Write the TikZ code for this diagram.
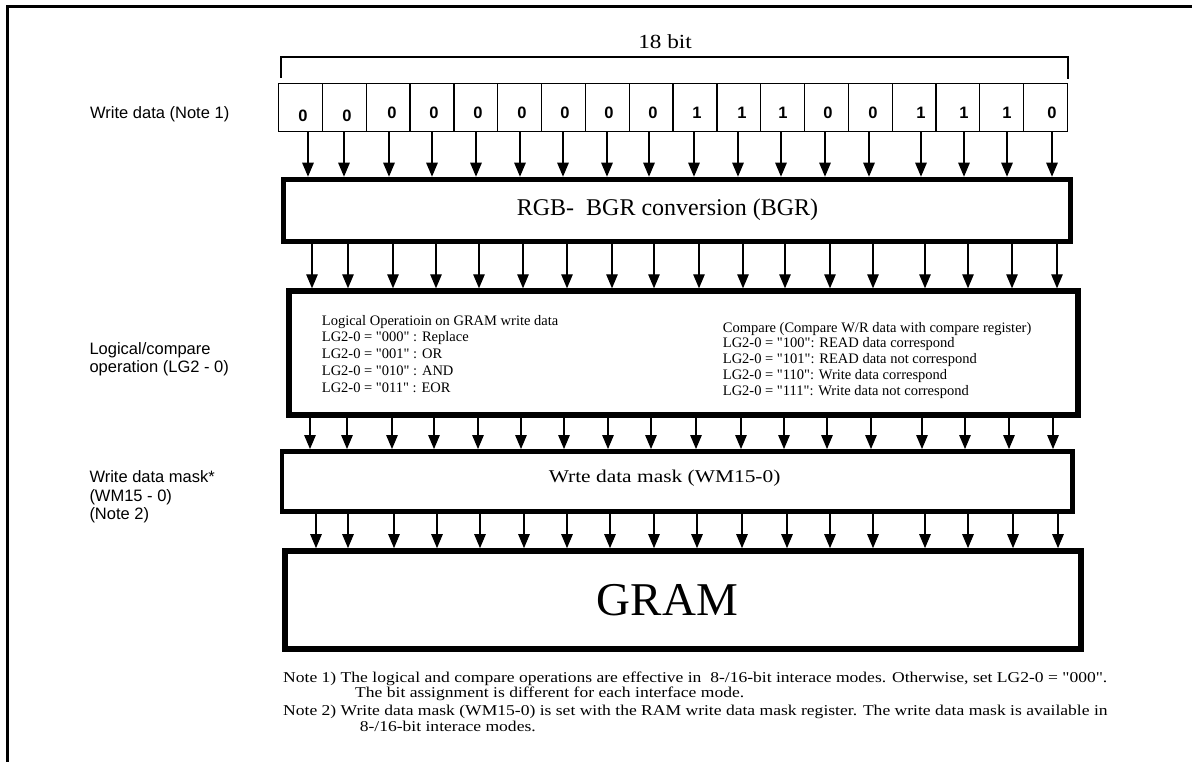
\documentclass[tikz,border=0pt]{standalone}
\usepackage{fontspec}
\setmainfont{Liberation Serif}
\newfontfamily\arialfont{Liberation Sans}
\usepackage{graphicx}
\usetikzlibrary{arrows.meta}
\newcommand\myq[1]{\textquotedbl#1\textquotedbl}
\tikzset{
  frameline/.style={line width=3pt},
  bracketline/.style={line width=1.3pt},
  cellbox/.style={draw, line width=1.2pt, minimum width=43.83pt, minimum height=48pt, inner sep=0pt, anchor=north west},
  bitdigit/.style={font=\arialfont\bfseries\fontsize{16.5}{18}\selectfont, inner sep=0pt},
  conv/.style={-{Triangle[length=14pt,width=11.5pt]}, line width=1.2pt},
  block/.style={draw, fill=white, inner sep=0pt},
  lbl/.style={font=\arialfont\fontsize{16.5}{18}\selectfont, anchor=base west, inner sep=0pt},
  optext/.style={font=\fontsize{14.5}{16.7}\selectfont, anchor=base west, inner sep=0pt},
  notetext/.style={font=\fontsize{15}{16}\selectfont, anchor=base west, inner sep=0pt},
  serifc/.style={inner sep=0pt}
}
\begin{document}
\begin{tikzpicture}[x=1pt,y=-1pt]
\useasboundingbox (0,0) rectangle (1192,762);
\fill[white] (0,0) rectangle (1192,762);
% frame
\draw[frameline] (7,762) -- (7,6.5) -- (1192,6.5);

% bit cells
\foreach \i/\d/\dx/\dy in {1/0/303/115.7, 2/0/347/115.7, 3/0/392/113.3, 4/0/434/113.3,
  5/0/478/113.3, 6/0/522/113.3, 7/0/565/113.3, 8/0/609/113.3, 9/0/653/113.3,
  10/1/697/113.3, 11/1/742/113.3, 12/1/783/113.3, 13/0/828/113.3, 14/0/873/113.3,
  15/1/921/113.3, 16/1/964/113.3, 17/1/1007/113.3, 18/0/1052/113.3}{
  \node[cellbox] (c\i) at ({278+(\i-1)*43.83},83) {};
  \node[bitdigit] (d\i) at (\dx,\dy) {\d};
}
% bracket
\draw[bracketline] (281,78) -- (281,57) -- (1068,57) -- (1068,79);
\node[serifc, font=\fontsize{20}{24}\selectfont] (bitlabel) at (665,41.7) {\scalebox{1.16}[1]{18 bit}};

% blocks
\node[block, line width=5pt, minimum width=787pt, minimum height=62.3pt] (rgb) at (677,210.35) {};
\node[serifc, font=\fontsize{24}{28}\selectfont] (rgbtext) at (667.5,209.7) {RGB-\ \ BGR conversion (BGR)};

\node[block, line width=6pt, minimum width=789.3pt, minimum height=124pt] (logic) at (683.4,353.3) {};
\node[optext] (l1) at (321.7,325) {Logical Operatioin on GRAM write data};
\node[optext] (l2) at (321.7,341.7) {LG2-0 = \myq{000} : Replace};
\node[optext] (l3) at (321.7,358.6) {LG2-0 = \myq{001} : OR};
\node[optext] (l4) at (321.7,375.4) {LG2-0 = \myq{010} : AND};
\node[optext] (l5) at (321.7,392.1) {LG2-0 = \myq{011} : EOR};
\node[optext] (r1) at (722.7,332.3) {Compare (Compare W/R data with compare register)};
\node[optext] (r2) at (722.7,347.5) {LG2-0 = \myq{100}: READ data correspond};
\node[optext] (r3) at (722.7,363) {LG2-0 = \myq{101}: READ data not correspond};
\node[optext] (r4) at (722.7,379.5) {LG2-0 = \myq{110}: Write data correspond};
\node[optext] (r5) at (722.7,395) {LG2-0 = \myq{111}: Write data not correspond};

\node[block, line width=4.5pt, minimum width=790.5pt, minimum height=60.4pt] (mask) at (677.25,481.5) {};
\node[serifc, font=\fontsize{18}{22}\selectfont] (masktext) at (664.6,478.3) {\scalebox{1.19}[1]{Wrte data mask (WM15-0)}};

\node[block, line width=6pt, minimum width=796pt, minimum height=97.7pt] (gram) at (683,600) {};
\node[serifc, font=\fontsize{47}{52}\selectfont] (gramtext) at (667.4,600) {GRAM};

% arrows
\foreach \i/\x in {1/308, 2/344, 3/389, 4/432, 5/476, 6/520, 7/563, 8/607, 9/649,
  10/694, 11/738, 12/781, 13/825, 14/869, 15/921, 16/964, 17/1007, 18/1052}{
  \draw[conv] (\x,0 |- c\i.south) -- (\x,0 |- rgb.north);
}
\foreach \x in {312,348,393,436,479,523,567,612,654,699,743,785,830,873,925,968,1012,1057}{
  \draw[conv] (\x,0 |- rgb.south) -- (\x,0 |- logic.north);
}
\foreach \x in {310,347,392,434,478,521,564,608,651,696,741,784,827,871,922,965,1009,1053}{
  \draw[conv] (\x,0 |- logic.south) -- (\x,0 |- mask.north);
}
\foreach \x in {316,348,394,437,480,524,567,610,654,697,742,787,830,873,925,968,1013,1058}{
  \draw[conv] (\x,0 |- mask.south) -- (\x,0 |- gram.north);
}

% left labels
\node[lbl] (lwd) at (90,119) {Write data (Note 1)};
\node[lbl] (llc1) at (89.3,354) {Logical/compare};
\node[lbl] (llc2) at (89.3,372) {operation (LG2 - 0)};
\node[lbl] (lwm1) at (89.3,482.6) {Write data mask*};
\node[lbl] (lwm2) at (89.3,501) {(WM15 - 0)};
\node[lbl] (lwm3) at (89.3,519) {(Note 2)};

% notes
\node[notetext] (n1) at (283,682) {\scalebox{1.17}[1]{Note 1) The logical and compare operations are effective in\ \ 8-/16-bit interace modes. Otherwise, set LG2-0 = \myq{000}.}};
\node[notetext] (n2) at (355,697.5) {\scalebox{1.17}[1]{The bit assignment is different for each interface mode.}};
\node[notetext] (n3) at (283,715.5) {\scalebox{1.17}[1]{Note 2) Write data mask (WM15-0) is set with the RAM write data mask register. The write data mask is available in}};
\node[notetext] (n4) at (359.6,731) {\scalebox{1.17}[1]{8-/16-bit interace modes.}};
\end{tikzpicture}
\end{document}
